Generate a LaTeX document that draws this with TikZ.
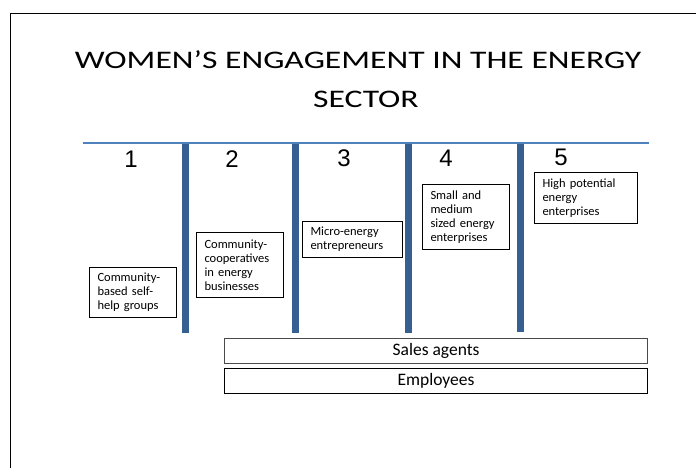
\documentclass[tikz,border=0pt]{standalone}
\usepackage{fontspec}
\setmainfont{Carlito}
\newfontfamily\titlefont[FakeStretch=1.33]{Carlito}
\newfontfamily\numfont{Liberation Sans}
\definecolor{barblue}{HTML}{376092}
\definecolor{lineblue}{HTML}{4F81BD}
\definecolor{salesgray}{HTML}{4A4A4A}
\tikzset{
  frameline/.style={line width=1.6pt, black},
  titletext/.style={font=\titlefont\fontsize{25.3}{30}\selectfont, inner sep=0pt, anchor=base},
  hline/.style={line width=2.5pt, lineblue},
  bar/.style={line width=7pt, barblue},
  numtext/.style={font=\numfont\fontsize{24}{28}\selectfont, inner sep=0pt, anchor=base},
  stagebox/.style={draw, line width=1pt, anchor=north west, align=left, inner xsep=8pt, inner ysep=0pt,
    font=\fontsize{12.5}{14}\selectfont},
  widebox/.style={draw, line width=1.1pt, anchor=north west, inner sep=0pt, minimum width=423pt,
    minimum height=25pt, font=\fontsize{17.5}{20}\selectfont}
}
\begin{document}
\begin{tikzpicture}[x=1pt,y=-1pt]
\useasboundingbox (0,0) rectangle (696,468);
\fill[white] (0,0) rectangle (696,468);
% frame
\coordinate (fb) at (10.5,468);
\coordinate (fc) at (10.5,13.5);
\coordinate (fr) at (696,13.5);
\draw[frameline] (fb) -- (fc) -- (fr);
% title
\node[titletext] (t1) at (358,69) {WOMEN’S ENGAGEMENT IN THE ENERGY};
\node[titletext] (t2) at (366,108) {SECTOR};
% horizontal line
\coordinate (hl) at (83,143);
\coordinate (hr) at (649,143);
\draw[hline] (hl) -- (hr);
% bars
\coordinate (b1t) at (185.5,144); \coordinate (b1b) at (185.5,333);
\coordinate (b2t) at (295.5,144); \coordinate (b2b) at (295.5,333);
\coordinate (b3t) at (408.5,144); \coordinate (b3b) at (408.5,333);
\coordinate (b4t) at (520.5,144); \coordinate (b4b) at (520.5,332);
\draw[bar] (b1t) -- (b1b);
\draw[bar] (b2t) -- (b2b);
\draw[bar] (b3t) -- (b3b);
\draw[bar] (b4t) -- (b4b);
% numbers
\node[numtext] (n1) at (131,167.5) {1};
\node[numtext] (n2) at (232,167.5) {2};
\node[numtext] (n3) at (344,167) {3};
\node[numtext] (n4) at (446,167) {4};
\node[numtext] (n5) at (561,165) {5};
% stage boxes
\node[stagebox, text width=71pt, minimum height=50pt] (s1) at (89,267)
  {Community-\\based self-\\help groups};
\node[stagebox, text width=71pt, minimum height=65pt] (s2) at (196,232)
  {Community-\\cooperatives\\in energy\\businesses};
\node[stagebox, text width=84pt, minimum height=36pt] (s3) at (302,221)
  {Micro-energy\\entrepreneurs};
\node[stagebox, text width=71pt, minimum height=65pt] (s4) at (422,184)
  {Small and\\medium\\sized energy\\enterprises};
\node[stagebox, text width=87pt, minimum height=51pt] (s5) at (534,172)
  {High potential\\energy\\enterprises};
% wide boxes
\node[widebox, draw=salesgray] (sa) at (224,338) {Sales agents};
\node[widebox] (em) at (224,368) {Employees};
\end{tikzpicture}
\end{document}
